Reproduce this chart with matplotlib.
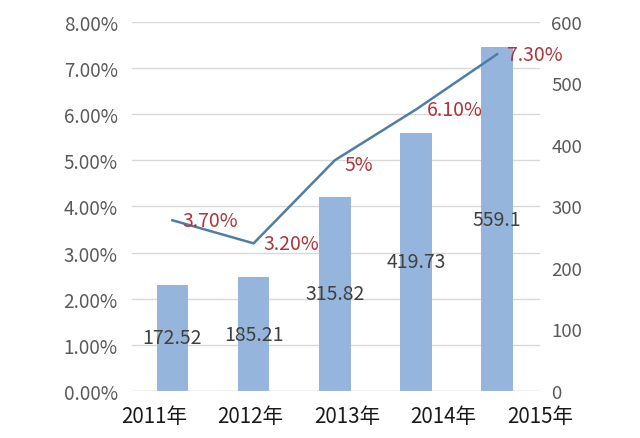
import numpy as np
import matplotlib
matplotlib.use('Agg')
import matplotlib.pyplot as plt
from matplotlib.ticker import FuncFormatter

plt.rcParams['font.family'] = ['Noto Sans CJK SC', 'DejaVu Sans']

years = ['2011年', '2012年', '2013年', '2014年', '2015年']
amounts = [172.52, 185.21, 315.82, 419.73, 559.1]
rates = [3.70, 3.20, 5.0, 6.10, 7.30]
rate_labels = ['3.70%', '3.20%', '5%', '6.10%', '7.30%']

fig = plt.figure(figsize=(6.4, 4.39), dpi=100)
ax = fig.add_axes([0.206, 0.107, 0.638, 0.841])
ax2 = ax.twinx()

x = np.arange(len(years))

# bars on the right axis
ax2.bar(x, amounts, width=0.39, color='#95b5dc', zorder=2)
for xi, v in zip(x, amounts):
    ax2.text(xi, v / 2, '{:g}'.format(v), ha='center', va='center',
             fontsize=14, color='#404040', zorder=5)
ax2.set_ylim(0, 600)
ax2.set_yticks(np.arange(0, 601, 100))

# line on the left axis, drawn above the bars
ax.set_zorder(ax2.get_zorder() + 1)
ax.patch.set_visible(False)
ax.plot(x, rates, color='#4f7ea3', lw=1.8, zorder=4)
offs = [(0.46, 0.0), (0.47, 0.0), (0.3, -0.09), (0.48, 0.0), (0.46, 0.0)]
for xi, r, lab, (dx, dy) in zip(x, rates, rate_labels, offs):
    ax.text(xi + dx, r + dy, lab, ha='center', va='center',
            fontsize=14, color='#b0353c', zorder=6)
ax.set_ylim(0, 8)
ax.set_yticks(np.arange(0, 9, 1))
ax.yaxis.set_major_formatter(FuncFormatter(lambda v, p: '{:.2f}%'.format(v)))
ax.set_xlim(-0.5, 4.5)
# category labels in the source sit a little wider apart than the bars
ax.set_xticks(-0.23 + 1.19 * x)
ax.set_xticklabels(years, fontsize=14.8, color='#1a1a1a')

# gridlines belong to the left axis but sit behind the bars
for g in np.arange(1, 9, 1):
    ax2.axhline(g * 75, color='#d9d9d9', lw=1, zorder=1)
ax2.axhline(0, color='#bfbfbf', lw=1, zorder=3)

for a in (ax, ax2):
    for s in a.spines.values():
        s.set_visible(False)
    a.tick_params(length=0, labelsize=13.6, labelcolor='#595959')
ax.tick_params(axis='x', labelsize=14.8, labelcolor='#1a1a1a', pad=10)
ax.tick_params(axis='y', pad=10)
ax2.tick_params(axis='y', labelsize=13.4, pad=8)

fig.savefig('out.png', dpi=100, facecolor='white')
